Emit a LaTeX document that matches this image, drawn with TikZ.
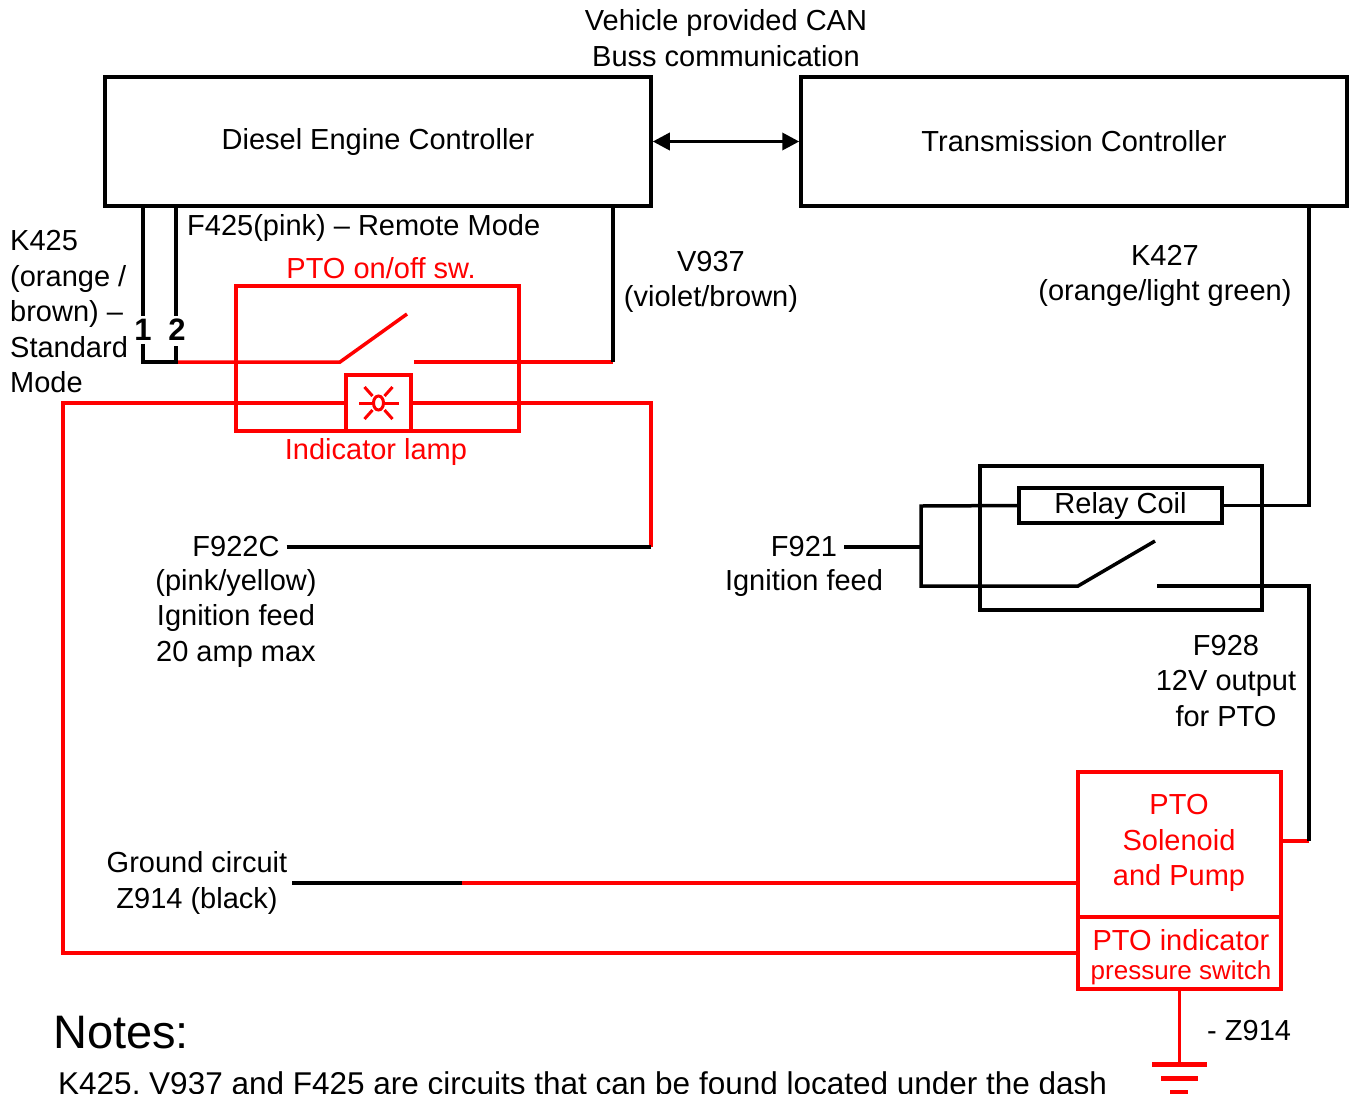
\documentclass[tikz,border=0pt]{standalone}
\usepackage{fontspec}
\setmainfont{Liberation Sans}
\usetikzlibrary{arrows.meta}
\definecolor{ptored}{RGB}{255,0,0}
\tikzset{wire/.style={draw=black,line width=3.5pt}}
\tikzset{redwire/.style={draw=ptored,line width=3.5pt}}
\frenchspacing

\begin{document}
\begin{tikzpicture}[x=1pt,y=-1pt]
  \tikzset{txt/.style={inner sep=1pt,align=center,font=\fontsize{29}{35.5}\selectfont}}
  \tikzset{redtxt/.style={txt,text=ptored}}
  \tikzset{unit/.style={draw=black,line width=3.5pt,inner sep=0pt,font=\fontsize{29}{35.5}\selectfont}}
  \tikzset{redbox/.style={draw=ptored,line width=3.5pt,inner sep=0pt}}
  \tikzset{pin/.style={inner sep=3pt,font=\fontsize{31}{32}\selectfont\bfseries}}
  \tikzset{bus/.style={wire,{Triangle[length=17pt,width=17pt]}-{Triangle[length=17pt,width=17pt]}}}

  \useasboundingbox (0,0) rectangle (1356,1093);

  % controllers
  \node[txt] (can) at (726,38) {Vehicle provided CAN\\Buss communication};
  \node[unit,minimum width=546pt,minimum height=129pt] (dec) at (378,141.5) {Diesel Engine Controller};
  \node[unit,minimum width=546pt,minimum height=129pt] (tc) at (1074,141.5) {Transmission Controller};
  \draw[bus] (dec.east) -- (tc.west);

  % dash switch
  \node[redbox,minimum width=283pt,minimum height=145pt] (sw) at (377.5,358.5) {};
  \node[redtxt] (swlbl) at (381,268) {PTO on/off sw.};
  \node[redbox,minimum width=65pt,minimum height=56pt] (lamp) at (378.5,403) {};
  \node[redtxt] (lamplbl) at (376,452) {Indicator lamp};
  \draw[redwire,line width=3pt] (lamp.center) ellipse (5 and 7);
  \draw[redwire,line width=3pt] (lamp.center) ++(-5,0) -- ++(-15,0);
  \draw[redwire,line width=3pt] (lamp.center) ++(5,0) -- ++(15,0);
  \foreach \sx/\sy in {1/1,1/-1,-1/1,-1/-1}
    \draw[redwire,line width=3pt] (lamp.center) ++(6*\sx,7*\sy) -- ++(8*\sx,9*\sy);

  % wire labels
  \node[txt,align=left,anchor=west] (k425) at (9,312) {K425\\(orange /\\brown) --\\Standard\\Mode};
  \node[txt,anchor=west] (f425) at (186,228) {F425(pink) -- Remote Mode};
  \node[txt] (v937) at (711,282) {V937\\(violet/brown)};
  \node[txt] (k427) at (1165,276) {K427\\(orange/light green)};
  \node[txt] (f922c) at (236,547) {F922C};
  \node[txt] (f922info) at (236,618) {(pink/yellow)\\Ignition feed\\20 amp max};
  \node[txt] (f921) at (804,547) {F921};
  \node[txt] (f921info) at (804,583) {Ignition feed};
  \node[txt] (f928) at (1226,681) {F928\\12V output\\for PTO};
  \node[txt] (gndlbl) at (197,883) {Ground circuit\\Z914 (black)};

  % pins 1 and 2
  \coordinate (k425top) at (143,206);
  \coordinate (f425top) at (176,206);
  \node[pin] (pina) at (143,330) {1};
  \node[pin] (pinb) at (177,330) {2};

  \draw[redwire] (176,362) -- (340,362) -- (407,314);
  \coordinate (v937bot) at (613,362);
  \draw[redwire] (414,362) -- (v937bot);
  \draw[wire] (v937bot) -- (613,206);
  \draw[wire] (k425top) -- (pina.north);
  \draw[wire] (f425top) -- (f425top |- pinb.north);
  \draw[wire] (pina.south) |- (176,362) -- (176,346);

  % relay
  \node[unit,minimum width=282pt,minimum height=144pt] (relay) at (1121,538) {};
  \node[unit,minimum width=203pt,minimum height=35pt] (coil) at (1120.5,505.5) {Relay Coil};
  \coordinate (relayin) at (921,506);
  \coordinate (contact) at (1157,586);
  \draw[wire] (1309,206) |- (coil.east);
  \draw[wire] (coil.west) -- (relayin) |- (1078,586) -- (1155,541);
  \draw[wire,shorten <=6pt] (f921.east) -- (relayin |- f921.east);

  % pump
  \node[redbox,minimum width=203pt,minimum height=145pt] (sol) at (1179.5,844.5) {};
  \node[redtxt] (sollbl) at (1179,843) {PTO\\Solenoid\\and Pump};
  \node[redbox,minimum width=203pt,minimum height=72pt] (psw) at (1179.5,953) {};
  \node[redtxt] (pswlbl) at (1181,940) {PTO indicator};
  \node[redtxt,font=\fontsize{26}{30}\selectfont] (pswlbl2) at (1181,973) {pressure switch};
  \coordinate (f928bend) at (1309,841);
  \draw[redwire] (sol.east |- f928bend) -- (f928bend);
  \draw[wire] (f928bend) |- (contact);

  % lamp and ignition feed
  \coordinate (lampret) at (63,403);
  \coordinate (ignbend) at (651,403);
  \draw[redwire] (lamp.west) -- (lampret) |- (psw.west);
  \draw[redwire] (lamp.east) -- (ignbend) -- (651,547);
  \draw[wire,shorten <=6pt] (f922c.east) -- (651,547);

  % ground
  \coordinate (gndjoin) at (462,883);
  \draw[wire,shorten <=4pt] (gndlbl.east |- gndjoin) -- (gndjoin);
  \draw[redwire] (gndjoin) -- (gndjoin -| sol.west);
  \coordinate (earth) at (1179.5,1064);
  \draw[redwire] (psw.south) -- (earth);
  \draw[redwire,line width=5pt] (1152,1064) -- (1207,1064);
  \draw[redwire,line width=5pt] (1161,1078) -- (1198,1078);
  \draw[redwire,line width=5pt] (1170,1092) -- (1188,1092);
  \node[txt,anchor=west] (z914) at (1206,1030) {- Z914};

  % notes
  \node[txt,anchor=west,font=\fontsize{47}{50}\selectfont] (notes) at (52,1033) {Notes:};
  \node[txt,anchor=base west,font=\fontsize{31.5}{36}\selectfont] (notetxt) at (57,1094) {K425. V937 and F425 are circuits that can be found located under the dash};
\end{tikzpicture}
\end{document}
